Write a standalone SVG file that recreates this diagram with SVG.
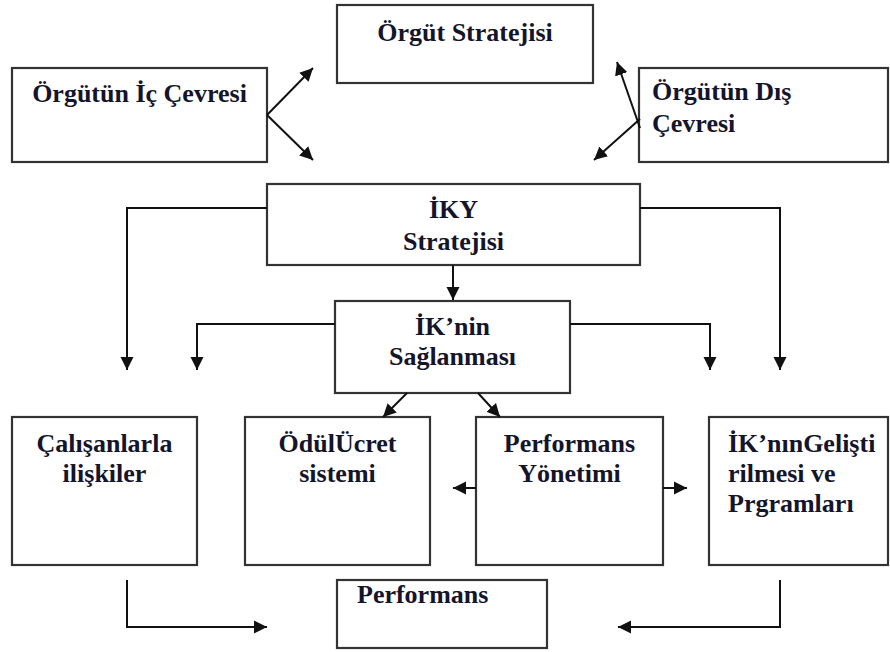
<svg xmlns="http://www.w3.org/2000/svg" width="890" height="652" viewBox="0 0 890 652">
<defs>
<marker id="ah" markerUnits="userSpaceOnUse" markerWidth="14" markerHeight="14" refX="13" refY="7" orient="auto">
<path d="M0,0.5 L13,7 L0,13.5 z" fill="#111"/>
</marker>
<style>
.box{fill:#fff;stroke:#333;stroke-width:2.2}
.t{font-family:"Liberation Serif","Times New Roman","DejaVu Serif",serif;font-weight:bold;font-size:26px;fill:#14142a}
.c{text-anchor:middle}
.ar{fill:none;stroke:#111;stroke-width:2;marker-end:url(#ah)}
</style>
</defs>
<rect width="890" height="652" fill="#fff"/>
<g id="ic-cevre"><rect class="box" x="12" y="68" width="255" height="94"/><text class="t c" x="139.5" y="102">Örgütün İç Çevresi</text></g>
<g id="orgut-strateji"><rect class="box" x="337" y="5" width="256" height="78"/><text class="t c" x="465" y="41">Örgüt Stratejisi</text></g>
<g id="dis-cevre"><rect class="box" x="639" y="68" width="249" height="94"/><text class="t" x="652" y="100">Örgütün Dış</text><text class="t" x="652" y="132">Çevresi</text></g>
<g id="iky"><rect class="box" x="267" y="184" width="373" height="81"/><text class="t c" x="453.5" y="218">İKY</text><text class="t c" x="453.5" y="250">Stratejisi</text></g>
<g id="ik-saglanmasi"><rect class="box" x="335" y="301" width="235" height="92"/><text class="t c" x="452.5" y="335">İK’nin</text><text class="t c" x="452.5" y="365">Sağlanması</text></g>
<g id="calisanlar"><rect class="box" x="12" y="417" width="185" height="148"/><text class="t c" x="104.5" y="452">Çalışanlarla</text><text class="t c" x="104.5" y="482">ilişkiler</text></g>
<g id="odul"><rect class="box" x="245" y="417" width="185" height="148"/><text class="t c" x="337.5" y="452">ÖdülÜcret</text><text class="t c" x="337.5" y="482">sistemi</text></g>
<g id="perf-yonetimi"><rect class="box" x="476" y="417" width="187" height="148"/><text class="t c" x="569.5" y="452">Performans</text><text class="t c" x="569.5" y="482">Yönetimi</text></g>
<g id="ik-gelistirme"><rect class="box" x="709" y="417" width="179" height="148"/><text class="t" x="728" y="452">İK’nınGelişti</text><text class="t" x="728" y="482">rilmesi ve</text><text class="t" x="728" y="512">Prgramları</text></g>
<g id="performans"><rect class="box" x="337" y="580" width="210" height="68"/><text class="t" x="357" y="603">Performans</text></g>
<g id="connectors">
<path class="ar" d="M267,115 L313,68"/>
<path class="ar" d="M267,115 L313,160"/>
<path class="ar" d="M640,128 L617,62"/>
<path class="ar" d="M640,119 L594,160"/>
<path class="ar" d="M267,208 H127 V370"/>
<path class="ar" d="M640,208 H780 V370"/>
<path class="ar" d="M453,265 V300"/>
<path class="ar" d="M335,324 H197 V370"/>
<path class="ar" d="M570,324 H710 V370"/>
<path class="ar" d="M407,393 L383,417"/>
<path class="ar" d="M478,393 L500,417"/>
<path class="ar" d="M476,488 H453"/>
<path class="ar" d="M663,488 H687"/>
<path class="ar" d="M127,580 V627 H267"/>
<path class="ar" d="M780,580 V627 H618"/>
</g>
</svg>
